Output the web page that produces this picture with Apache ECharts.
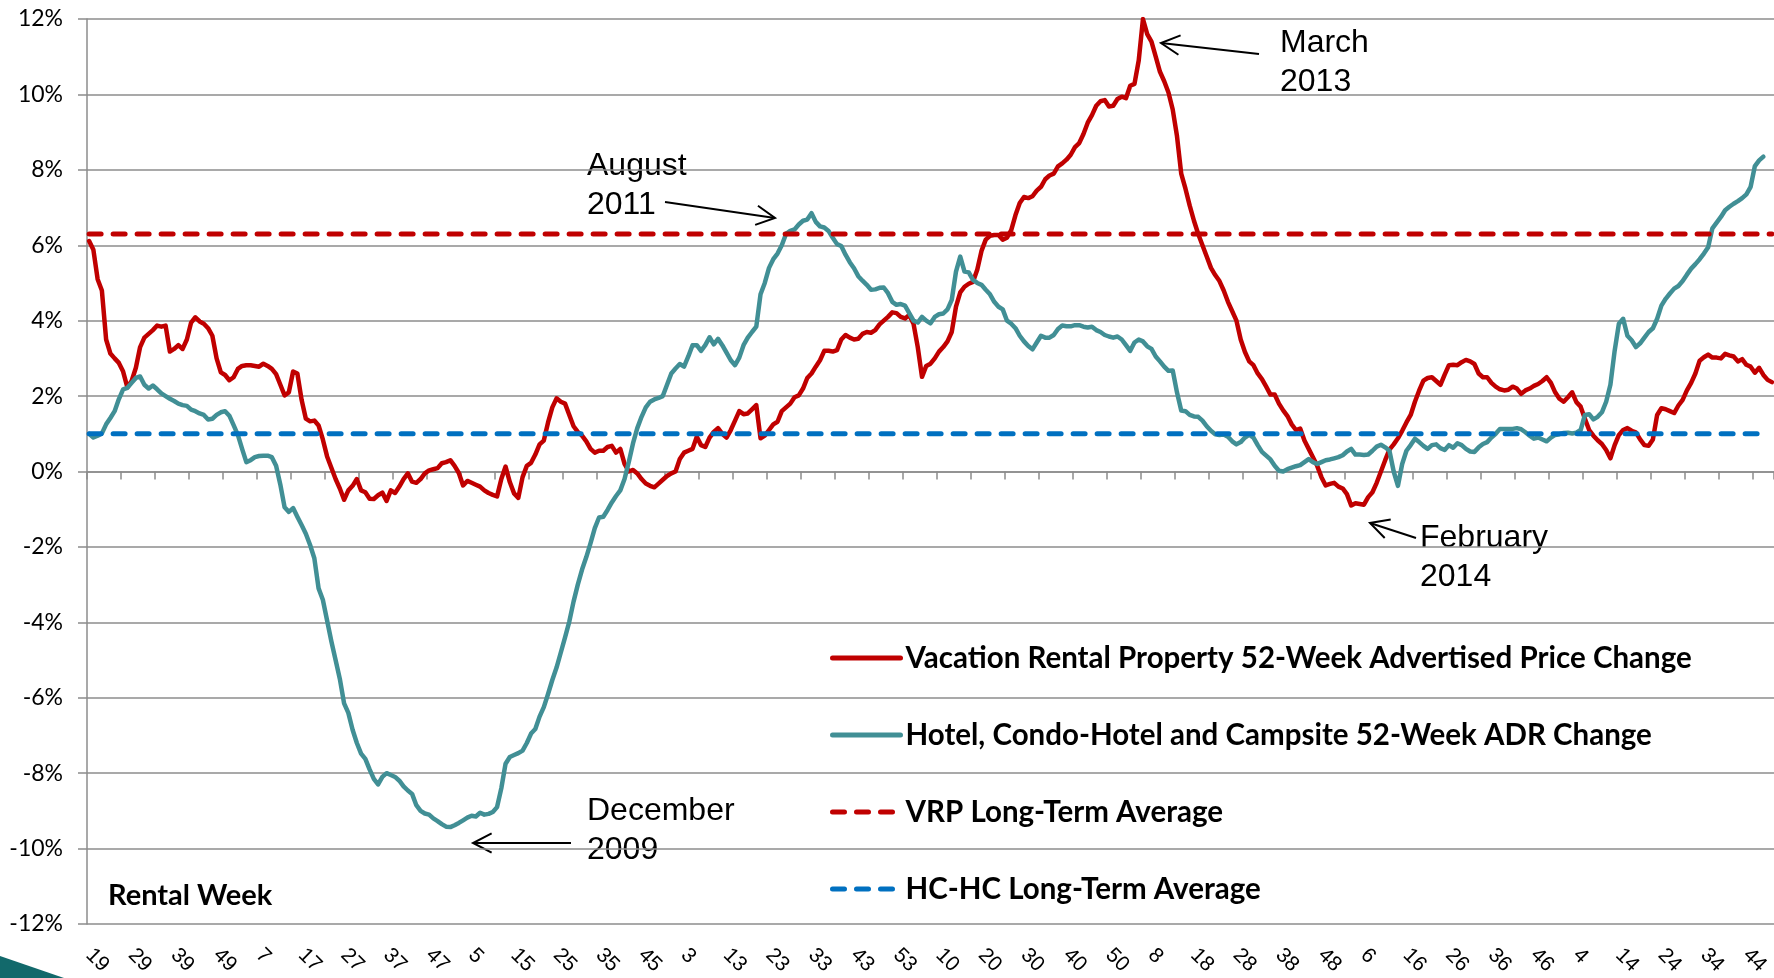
<!DOCTYPE html>
<html>
<head>
<meta charset="utf-8">
<title>VRP vs Hotel 52-week price change</title>
<script src="https://cdn.jsdelivr.net/npm/echarts@6/dist/echarts.min.js"></script>
<style>
  html, body { margin: 0; padding: 0; background: #fff; }
  #chart { width: 1774px; height: 978px; }
</style>
</head>
<body>
<div id="chart"></div>
<script>
// rental weeks per year, [first, last]: 2008 starts at wk 19, 2011 has a wk 53
const weekSpans = [[19, 52], [1, 52], [1, 52], [1, 53], [1, 52], [1, 52], [1, 52], [1, 50]];
const weekLabels = [];
weekSpans.forEach(([a, b]) => { for (let w = a; w <= b; w++) weekLabels.push(String(w)); });

const seriesNames = [
  'Vacation Rental Property 52-Week Advertised Price Change',
  'Hotel, Condo-Hotel and Campsite 52-Week ADR Change',
  'VRP Long-Term Average',
  'HC-HC Long-Term Average'
];

// weekly values, %
const vrpChange = [
  6.11, 5.88, 5.1, 4.8, 3.5, 3.13, 3.0, 2.88, 2.65, 2.23,
  2.4, 2.75, 3.3, 3.55, 3.65, 3.75, 3.87, 3.84, 3.87, 3.18,
  3.25, 3.35, 3.25, 3.5, 3.95, 4.09, 3.98, 3.92, 3.8, 3.6,
  3.0, 2.63, 2.56, 2.42, 2.5, 2.72, 2.8, 2.82, 2.82, 2.8,
  2.78, 2.86, 2.8, 2.72, 2.58, 2.3, 2.02, 2.1, 2.65, 2.6,
  1.9, 1.4, 1.33, 1.35, 1.22, 0.85, 0.4, 0.1, -0.2, -0.45,
  -0.75, -0.5, -0.38, -0.2, -0.5, -0.55, -0.72, -0.73, -0.63, -0.56,
  -0.78, -0.5, -0.57, -0.4, -0.2, -0.05, -0.27, -0.3, -0.2, -0.05,
  0.03, 0.06, 0.09, 0.22, 0.25, 0.3, 0.15, -0.04, -0.37, -0.25,
  -0.3, -0.35, -0.4, -0.5, -0.57, -0.62, -0.66, -0.2, 0.13, -0.28,
  -0.58, -0.7, -0.15, 0.15, 0.23, 0.45, 0.72, 0.82, 1.3, 1.7,
  1.94, 1.85, 1.8, 1.5, 1.2, 1.05, 0.95, 0.8, 0.6, 0.5,
  0.55, 0.55, 0.65, 0.68, 0.5, 0.6, 0.2, 0.0, 0.04, -0.05,
  -0.2, -0.32, -0.38, -0.42, -0.32, -0.22, -0.12, -0.05, 0.0, 0.33,
  0.5, 0.55, 0.6, 0.92, 0.7, 0.65, 0.9, 1.05, 1.15, 1.0,
  0.9, 1.1, 1.35, 1.6, 1.52, 1.54, 1.65, 1.76, 0.88, 0.95,
  1.1, 1.25, 1.32, 1.6, 1.7, 1.8, 1.97, 2.02, 2.2, 2.48,
  2.6, 2.78, 2.95, 3.2, 3.2, 3.18, 3.22, 3.5, 3.62, 3.55,
  3.5, 3.52, 3.65, 3.7, 3.68, 3.75, 3.9, 4.0, 4.1, 4.22,
  4.2, 4.1, 4.06, 4.15, 3.92, 3.3, 2.51, 2.8, 2.86, 3.0,
  3.18, 3.3, 3.45, 3.7, 4.37, 4.75, 4.9, 4.98, 5.03, 5.35,
  5.85, 6.15, 6.25, 6.27, 6.27, 6.15, 6.2, 6.4, 6.8, 7.12,
  7.28, 7.25, 7.3, 7.45, 7.55, 7.75, 7.85, 7.9, 8.09, 8.17,
  8.27, 8.4, 8.6, 8.71, 8.95, 9.25, 9.45, 9.7, 9.82, 9.85,
  9.68, 9.7, 9.88, 9.94, 9.9, 10.23, 10.28, 10.9, 12.0, 11.6,
  11.4, 11.0, 10.6, 10.35, 10.05, 9.6, 8.9, 7.9, 7.5, 7.05,
  6.65, 6.3, 6.0, 5.7, 5.4, 5.21, 5.05, 4.8, 4.5, 4.25,
  4.0, 3.5, 3.17, 2.92, 2.82, 2.6, 2.45, 2.25, 2.04, 2.04,
  1.8, 1.62, 1.47, 1.25, 1.1, 1.14, 0.82, 0.6, 0.38, 0.15,
  -0.15, -0.37, -0.33, -0.3, -0.4, -0.45, -0.6, -0.9, -0.84, -0.86,
  -0.88, -0.68, -0.55, -0.3, 0.0, 0.3, 0.58, 0.72, 0.88, 1.08,
  1.3, 1.5, 1.85, 2.15, 2.41, 2.48, 2.5, 2.4, 2.3, 2.57,
  2.82, 2.83, 2.82, 2.9, 2.96, 2.92, 2.85, 2.6, 2.5, 2.5,
  2.35, 2.25, 2.18, 2.15, 2.17, 2.25, 2.2, 2.06, 2.15, 2.2,
  2.27, 2.32, 2.4, 2.5, 2.35, 2.1, 1.93, 1.85, 1.97, 2.1,
  1.84, 1.72, 1.4, 1.1, 0.95, 0.83, 0.73, 0.57, 0.35, 0.7,
  0.97, 1.1, 1.15, 1.08, 1.04, 0.85, 0.7, 0.68, 0.85, 1.5,
  1.68, 1.65, 1.6, 1.55, 1.75, 1.9, 2.15, 2.35, 2.6, 2.94,
  3.03, 3.1, 3.02, 3.02, 3.0, 3.12, 3.08, 3.05, 2.92, 2.98,
  2.83, 2.78, 2.62, 2.75, 2.56, 2.43, 2.37
];

const hotelChange = [
  1.0, 0.9, 0.95, 1.01, 1.25, 1.42, 1.6, 1.92, 2.18, 2.22,
  2.35, 2.48, 2.52, 2.3, 2.2, 2.28, 2.18, 2.07, 2.0, 1.93,
  1.87, 1.8, 1.76, 1.74, 1.64, 1.6, 1.54, 1.5, 1.38, 1.4,
  1.5, 1.57, 1.6, 1.48, 1.23, 0.97, 0.6, 0.25, 0.3, 0.38,
  0.41, 0.42, 0.42, 0.38, 0.15, -0.35, -0.95, -1.07, -0.97, -1.2,
  -1.42, -1.65, -1.95, -2.3, -3.1, -3.4, -3.95, -4.5, -5.0, -5.5,
  -6.15, -6.4, -6.85, -7.2, -7.48, -7.62, -7.9, -8.15, -8.3, -8.1,
  -8.0, -8.05, -8.1, -8.2, -8.35, -8.46, -8.55, -8.85, -9.0, -9.07,
  -9.1, -9.2, -9.27, -9.35, -9.42, -9.43, -9.38, -9.32, -9.25, -9.18,
  -9.13, -9.15, -9.05, -9.1, -9.08, -9.03, -8.9, -8.4, -7.75, -7.57,
  -7.52, -7.47, -7.4, -7.2, -6.95, -6.83, -6.5, -6.25, -5.9, -5.53,
  -5.2, -4.8, -4.4, -3.98, -3.45, -3.0, -2.6, -2.27, -1.9, -1.5,
  -1.22, -1.2, -1.02, -0.82, -0.65, -0.5, -0.2, 0.25, 0.75, 1.15,
  1.45, 1.7, 1.85, 1.91, 1.95, 2.0, 2.3, 2.6, 2.73, 2.85,
  2.78, 3.05, 3.35, 3.35, 3.2, 3.35, 3.56, 3.37, 3.52, 3.35,
  3.15, 2.95, 2.82, 3.02, 3.35, 3.55, 3.7, 3.84, 4.7, 5.0,
  5.4, 5.63, 5.78, 6.0, 6.3, 6.38, 6.42, 6.55, 6.65, 6.68,
  6.85, 6.62, 6.5, 6.47, 6.38, 6.2, 6.03, 5.98, 5.75, 5.55,
  5.39, 5.18, 5.06, 4.95, 4.82, 4.83, 4.87, 4.88, 4.73, 4.5,
  4.42, 4.44, 4.4, 4.2, 4.0, 3.95, 4.1, 4.0, 3.93, 4.1,
  4.17, 4.19, 4.3, 4.55, 5.3, 5.7, 5.3, 5.28, 5.08, 5.0,
  4.95, 4.82, 4.7, 4.5, 4.37, 4.3, 4.0, 3.92, 3.8, 3.6,
  3.45, 3.33, 3.24, 3.42, 3.6, 3.55, 3.55, 3.62, 3.78, 3.87,
  3.85, 3.85, 3.88, 3.88, 3.84, 3.82, 3.84, 3.75, 3.7, 3.62,
  3.58, 3.55, 3.58, 3.5, 3.35, 3.2, 3.42, 3.5, 3.45, 3.32,
  3.25, 3.05, 2.92, 2.78, 2.67, 2.68, 2.1, 1.62, 1.6, 1.5,
  1.46, 1.45, 1.35, 1.2, 1.08, 0.99, 0.97, 0.98, 0.92, 0.8,
  0.72, 0.78, 0.9, 0.98, 0.9, 0.7, 0.52, 0.42, 0.32, 0.15,
  0.02, 0.0, 0.06, 0.1, 0.14, 0.17, 0.25, 0.33, 0.25, 0.2,
  0.25, 0.3, 0.32, 0.35, 0.38, 0.43, 0.53, 0.6, 0.45, 0.45,
  0.44, 0.45, 0.55, 0.66, 0.71, 0.64, 0.55, 0.0, -0.38, 0.2,
  0.55, 0.7, 0.87, 0.78, 0.68, 0.6, 0.7, 0.72, 0.62, 0.57,
  0.7, 0.63, 0.75, 0.7, 0.6, 0.53, 0.52, 0.64, 0.73, 0.78,
  0.9, 1.0, 1.13, 1.13, 1.13, 1.13, 1.15, 1.12, 1.04, 0.95,
  0.87, 0.9, 0.85, 0.8, 0.9, 0.97, 0.99, 1.02, 1.03, 1.01,
  1.03, 1.1, 1.5, 1.52, 1.38, 1.45, 1.57, 1.85, 2.3, 3.2,
  3.92, 4.05, 3.6, 3.48, 3.3, 3.4, 3.55, 3.7, 3.8, 4.05,
  4.4, 4.58, 4.72, 4.85, 4.92, 5.05, 5.22, 5.38, 5.5, 5.63,
  5.78, 5.95, 6.45, 6.6, 6.75, 6.93, 7.02, 7.1, 7.17, 7.25,
  7.35, 7.55, 8.1, 8.25, 8.35
];

const vrpLongTermAvg = 6.3;
const hotelLongTermAvg = 1.0;

const notes = [
  { text: ['August', '2011'], x: 587, y: 166, from: [665, 202], to: [775, 218] },
  { text: ['March', '2013'], x: 1280, y: 43, from: [1259, 54], to: [1161, 43] },
  { text: ['December', '2009'], x: 587, y: 811, from: [571, 843], to: [473, 843] },
  { text: ['February', '2014'], x: 1420, y: 538, from: [1416, 538], to: [1370, 523] }
];

const gridColor = '#8c8c8c';
const red = '#C00000';
const teal = '#418F95';
const blue = '#0070C0';

const chart = echarts.init(document.getElementById('chart'));

const graphics = [];
notes.forEach(n => {
  n.text.forEach((t, k) => {
    graphics.push({
      type: 'text', x: n.x, y: n.y + k * 39, silent: true,
      style: { text: t, font: '32px "Liberation Sans", Arial, sans-serif', fill: '#000', align: 'left', verticalAlign: 'middle' }
    });
  });
  // shaft + open arrowhead
  const ang = Math.atan2(n.from[1] - n.to[1], n.from[0] - n.to[0]);
  const len = 21, spread = 0.48;
  graphics.push({ type: 'polyline', silent: true, shape: { points: [n.from, n.to] }, style: { stroke: '#000', lineWidth: 2 } });
  graphics.push({
    type: 'polyline', silent: true,
    shape: { points: [
      [n.to[0] + len * Math.cos(ang + spread), n.to[1] + len * Math.sin(ang + spread)],
      n.to,
      [n.to[0] + len * Math.cos(ang - spread), n.to[1] + len * Math.sin(ang - spread)]
    ] },
    style: { stroke: '#000', lineWidth: 2, fill: null }
  });
});
graphics.push({
  type: 'text', x: 108, y: 896, silent: true,
  style: { text: 'Rental Week', font: 'bold 29px Lato, sans-serif', fill: '#000', verticalAlign: 'middle' }
});
// slide decoration in the bottom-left corner
graphics.push({
  type: 'polygon', silent: true,
  shape: { points: [[0, 956], [64, 978], [0, 978]] },
  style: { fill: '#12696b' }
});

chart.setOption({
  animation: false,
  backgroundColor: '#fff',
  grid: { left: 87, right: 0, top: 19, bottom: 54, containLabel: false, outerBoundsMode: 'none' },
  legend: {
    orient: 'vertical',
    left: 825,
    top: 638,
    itemWidth: 68,
    itemHeight: 30,
    itemGap: 47,
    selectedMode: false,
    itemStyle: { color: 'rgba(0,0,0,0)', borderWidth: 0, opacity: 0 },
    lineStyle: { width: 5 },
    textStyle: { fontFamily: 'Lato', fontWeight: 'bold', fontSize: 29.5, color: '#000' },
    data: seriesNames
  },
  xAxis: [
    {
      type: 'category',
      data: weekLabels,
      boundaryGap: true,
      axisLine: { show: false, onZero: false },
      axisTick: { show: false },
      splitLine: { show: false },
      axisLabel: {
        interval: 9, rotate: -45, margin: 28,
        color: '#000', fontFamily: 'Liberation Sans', fontSize: 21
      }
    },
    {
      type: 'category',
      data: weekLabels,
      boundaryGap: true,
      position: 'bottom',
      axisLine: { show: true, onZero: true, lineStyle: { color: gridColor, width: 1.5 } },
      axisTick: { show: true, interval: 7, alignWithLabel: false, length: 8, lineStyle: { color: gridColor, width: 1.5 } },
      axisLabel: { show: false },
      splitLine: { show: false }
    }
  ],
  yAxis: {
    type: 'value',
    min: -12,
    max: 12,
    interval: 2,
    axisLine: { show: true, onZero: false, lineStyle: { color: gridColor, width: 1.5 } },
    axisTick: { show: true, length: 9, lineStyle: { color: gridColor, width: 1.5 } },
    splitLine: { show: true, lineStyle: { color: gridColor, width: 1.5 } },
    axisLabel: {
      formatter: '{value}%', margin: 24,
      color: '#000', fontFamily: 'Lato', fontSize: 23
    }
  },
  series: [
    {
      name: seriesNames[0], type: 'line', data: vrpChange, symbol: 'none',
      itemStyle: { color: red },
      lineStyle: { color: red, width: 4.5, join: 'round', cap: 'round' }
    },
    {
      name: seriesNames[1], type: 'line', data: hotelChange, symbol: 'none',
      itemStyle: { color: teal },
      lineStyle: { color: teal, width: 4.5, join: 'round', cap: 'round' }
    },
    {
      name: seriesNames[2], type: 'line', symbol: 'none',
      data: [[0, vrpLongTermAvg], [weekLabels.length - 1, vrpLongTermAvg]],
      itemStyle: { color: red },
      lineStyle: { color: red, width: 5, type: [12, 12], cap: 'round' }
    },
    {
      name: seriesNames[3], type: 'line', symbol: 'none',
      data: [[0, hotelLongTermAvg], [hotelChange.length - 1, hotelLongTermAvg]],
      itemStyle: { color: blue },
      lineStyle: { color: blue, width: 5, type: [12, 12], cap: 'round' }
    }
  ],
  graphic: graphics
});
</script>
</body>
</html>
